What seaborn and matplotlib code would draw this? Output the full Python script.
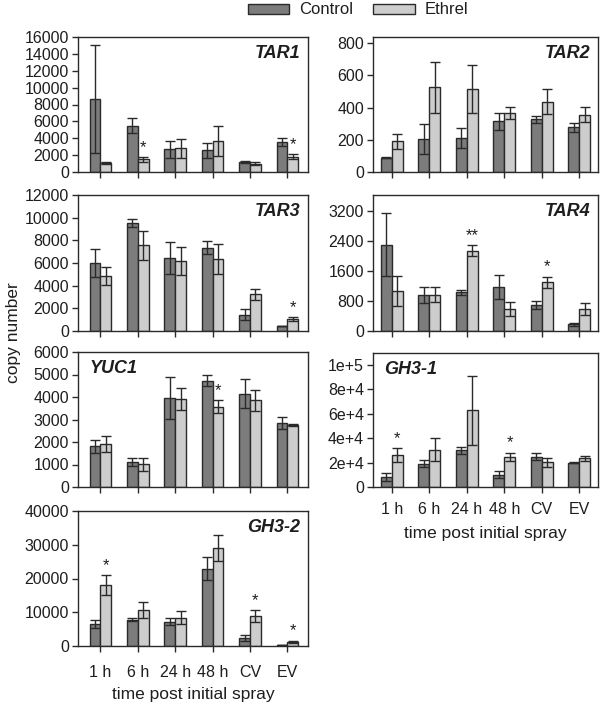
import numpy as np
import pandas as pd
import matplotlib
matplotlib.use("Agg")
import matplotlib.pyplot as plt
from matplotlib.patches import Patch
from matplotlib.container import BarContainer
import seaborn as sns

sns.set_style("ticks")
plt.rcParams['font.family'] = ['Liberation Sans', 'DejaVu Sans']

times = ["1 h", "6 h", "24 h", "48 h", "CV", "EV"]
treatments = ["Control", "Ethrel"]

tar1_ctrl = [8700, 5500, 2700, 2550, 1200, 3550]
tar1_ctrl_err = [6400, 900, 1000, 850, 100, 450]
tar1_eth = [1100, 1500, 2800, 3700, 1000, 1800]
tar1_eth_err = [100, 300, 1100, 1800, 200, 300]
tar1_sig = ["", "*", "", "", "", "*"]

tar2_ctrl = [90, 205, 210, 315, 327, 277]
tar2_ctrl_err = [3, 93, 63, 52, 20, 29]
tar2_eth = [190, 525, 515, 369, 436, 356]
tar2_eth_err = [46, 160, 147, 37, 77, 46]
tar2_sig = ["", "", "", "", "", ""]

tar3_ctrl = [6000, 9500, 6450, 7350, 1450, 450]
tar3_ctrl_err = [1200, 350, 1400, 550, 500, 20]
tar3_eth = [4850, 7550, 6200, 6350, 3250, 1050]
tar3_eth_err = [800, 1300, 1250, 1300, 500, 200]
tar3_sig = ["", "", "", "", "", "*"]

tar4_ctrl = [2300, 950, 1030, 1160, 700, 175]
tar4_ctrl_err = [830, 210, 60, 320, 110, 30]
tar4_eth = [1070, 965, 2135, 580, 1300, 585]
tar4_eth_err = [400, 200, 150, 190, 150, 150]
tar4_sig = ["", "", "**", "", "*", ""]

yuc1_ctrl = [1810, 1120, 3970, 4730, 4150, 2850]
yuc1_ctrl_err = [280, 190, 930, 260, 640, 270]
yuc1_eth = [1900, 1010, 3910, 3570, 3850, 2760]
yuc1_eth_err = [360, 280, 470, 290, 470, 30]
yuc1_sig = ["", "", "", "*", "", ""]

gh31_ctrl = [8100, 19000, 30000, 10200, 24800, 19800]
gh31_ctrl_err = [3300, 3000, 2600, 2800, 3000, 300]
gh31_eth = [26000, 30600, 62800, 24600, 20100, 23500]
gh31_eth_err = [5700, 9200, 28500, 3600, 3800, 2300]
gh31_sig = ["*", "", "", "*", "", ""]

gh32_ctrl = [6500, 7800, 7150, 22900, 2500, 200]
gh32_ctrl_err = [1300, 400, 1000, 3400, 900, 30]
gh32_eth = [18000, 10600, 8400, 29100, 8900, 1300]
gh32_eth_err = [2900, 2300, 1900, 3800, 1800, 300]
gh32_sig = ["*", "", "", "", "*", "*"]

yticks_tar1 = [0, 2000, 4000, 6000, 8000, 10000, 12000, 14000, 16000]
yticks_tar2 = [0, 200, 400, 600, 800]
yticks_tar3 = [0, 2000, 4000, 6000, 8000, 10000, 12000]
yticks_tar4 = [0, 800, 1600, 2400, 3200]
yticks_yuc1 = [0, 1000, 2000, 3000, 4000, 5000, 6000]
yticks_gh31 = [0, 20000, 40000, 60000, 80000, 100000]
yticklabels_gh31 = ["0", "2e+4", "4e+4", "6e+4", "8e+4", "1e+5"]
yticks_gh32 = [0, 10000, 20000, 30000, 40000]

CTRL_COLOR = "#7c7c7c"
ETH_COLOR = "#cdcdcd"
EDGE = "#2a2a2a"
TXT = "#1e1e1e"

panels = [
    ("TAR1", tar1_ctrl, tar1_ctrl_err, tar1_eth, tar1_eth_err, tar1_sig, yticks_tar1, None, 16000,
     [78, 37, 308, 172], "right", None),
    ("TAR2", tar2_ctrl, tar2_ctrl_err, tar2_eth, tar2_eth_err, tar2_sig, yticks_tar2, None, 838,
     [373, 37, 598, 172], "right", None),
    ("TAR3", tar3_ctrl, tar3_ctrl_err, tar3_eth, tar3_eth_err, tar3_sig, yticks_tar3, None, 12000,
     [78, 195, 308, 331], "right", None),
    ("TAR4", tar4_ctrl, tar4_ctrl_err, tar4_eth, tar4_eth_err, tar4_sig, yticks_tar4, None, 3620,
     [373, 195, 598, 331], "right", None),
    ("YUC1", yuc1_ctrl, yuc1_ctrl_err, yuc1_eth, yuc1_eth_err, yuc1_sig, yticks_yuc1, None, 6000,
     [78, 352, 308, 487], "left", None),
    ("GH3-1", gh31_ctrl, gh31_ctrl_err, gh31_eth, gh31_eth_err, gh31_sig, yticks_gh31, yticklabels_gh31, 109800,
     [373, 353, 598, 487], "left", (6, 7)),
    ("GH3-2", gh32_ctrl, gh32_ctrl_err, gh32_eth, gh32_eth_err, gh32_sig, yticks_gh32, None, 40000,
     [78, 511, 308, 646], "right", (9, 5)),
]

W, H = 600, 704
fig = plt.figure(figsize=(W / 100, H / 100), dpi=100)

for (name, c, ce, e, ee, sig, yt, ytl, ymax, box, side, xpads) in panels:
    x0, y0, x1, y1 = box
    ax = fig.add_axes([x0 / W, 1 - y1 / H, (x1 - x0) / W, (y1 - y0) / H])
    df = pd.DataFrame({
        "time": times * 2,
        "treatment": ["Control"] * 6 + ["Ethrel"] * 6,
        "value": list(c) + list(e),
    })
    sns.barplot(data=df, x="time", y="value", hue="treatment", order=times,
                hue_order=treatments, palette=[CTRL_COLOR, ETH_COLOR],
                errorbar=None, width=0.58, edgecolor=EDGE, linewidth=1.0,
                saturation=1, legend=False, ax=ax)
    errs = [ce, ee]
    bar_conts = [cn for cn in ax.containers if isinstance(cn, BarContainer)]
    for ci, cont in enumerate(bar_conts):
        for pi, patch in enumerate(cont.patches):
            xc = patch.get_x() + patch.get_width() / 2
            h = patch.get_height()
            ax.errorbar(xc, h, yerr=errs[ci][pi], color=EDGE, lw=1.0,
                        capsize=3.8, capthick=1.0, zorder=5)
            if ci == 1 and sig[pi]:
                ax.text(xc, h + errs[ci][pi] + ymax * 0.015, sig[pi],
                        ha="center", va="bottom", fontsize=12, color=TXT)
    xl = (-0.6, 5.55) if x0 < 300 else (-0.5, 5.5)
    ax.set_xlim(*xl)
    ax.set_ylim(0, ymax)
    ax.set_yticks(yt)
    if ytl is not None:
        ax.set_yticklabels(ytl)
    ax.set_ylabel("")
    if xpads is not None:
        ax.set_xlabel("time post initial spray", fontsize=12.5, color=TXT, labelpad=xpads[1])
        ax.tick_params(axis="x", labelsize=11.5, labelcolor=TXT, pad=xpads[0])
    else:
        ax.set_xlabel("")
        ax.set_xticklabels([])
    ax.tick_params(axis="y", labelsize=11.5, labelcolor=TXT, pad=2)
    ax.tick_params(length=4.5, width=1.0, color=EDGE, direction="out")
    for sp in ax.spines.values():
        sp.set_visible(True)
        sp.set_color(EDGE)
        sp.set_linewidth(1.0)
    if side == "right":
        ax.text(0.965, 0.88, name, transform=ax.transAxes, ha="right", va="center",
                fontsize=13, fontweight="bold", fontstyle="italic", color=TXT)
    else:
        ax.text(0.05, 0.88, name, transform=ax.transAxes, ha="left", va="center",
                fontsize=13, fontweight="bold", fontstyle="italic", color=TXT)

fig.text(0.022, 1 - 333 / H, "copy number", rotation=90, ha="center", va="center",
         fontsize=12.5, color=TXT)

handles = [Patch(facecolor=CTRL_COLOR, edgecolor=EDGE, linewidth=1.0),
           Patch(facecolor=ETH_COLOR, edgecolor=EDGE, linewidth=1.0)]
fig.legend(handles, treatments, loc="center", bbox_to_anchor=(0.597, 1 - 10 / H),
           ncol=2, frameon=False, fontsize=12, handlelength=2.5, handleheight=0.55,
           handletextpad=0.6, columnspacing=1.2, labelcolor=TXT)

fig.savefig("out.png", dpi=100)
